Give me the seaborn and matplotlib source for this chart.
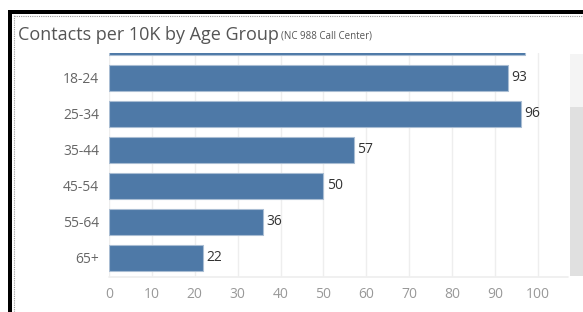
import matplotlib
matplotlib.use("Agg")
import matplotlib.pyplot as plt
import seaborn as sns
import pandas as pd
from matplotlib.lines import Line2D
from matplotlib.patches import Rectangle

# age groups (first one is scrolled out of view in the dashboard)
age_groups = ["<18", "18-24", "25-34", "35-44", "45-54", "55-64", "65+"]
contacts_per_10k = [97, 93, 96, 57, 50, 36, 22]
x_ticks = [0, 10, 20, 30, 40, 50, 60, 70, 80, 90, 100]

W, H = 583, 312
df = pd.DataFrame({"age": age_groups, "contacts": contacts_per_10k})

sns.set_theme(style="white")
plt.rcParams['font.family'] = ['Open Sans', 'DejaVu Sans']

fig = plt.figure(figsize=(W / 100, H / 100), dpi=100)
fig.patch.set_facecolor("white")

def px(x0, y0, x1, y1):
    return [x0 / W, 1 - y1 / H, (x1 - x0) / W, (y1 - y0) / H]

ax = fig.add_axes(px(109, 53, 568, 277))
sns.barplot(data=df, y="age", x="contacts", orient="h", color="#4e79a7",
            saturation=1, width=0.74, edgecolor="#a9bdd3", linewidth=0.8, ax=ax)

ax.set_xlim(0, 107)
ax.set_ylim(6.53, 0.31)
ax.set_xticks(x_ticks)
ax.set_xlabel("")
ax.set_ylabel("")
ax.grid(axis="x", color="#eeeeee", linewidth=1)
ax.set_axisbelow(True)
for s in ax.spines.values():
    s.set_visible(False)
ax.axhline(6.53, color="#eeeeee", linewidth=1.2, clip_on=False)
ax.tick_params(axis="x", colors="#999999", labelsize=10, length=0, pad=7)
ax.tick_params(axis="y", colors="#666666", labelsize=10, length=0, pad=7)
for lab in ax.get_xticklabels():
    lab.set_color("#999999")
for lab in ax.get_yticklabels():
    lab.set_color("#666666")

for i, v in enumerate(contacts_per_10k):
    ax.text(v + 0.8, i, str(v), va="center", ha="left", fontsize=10,
            color="#333333", clip_on=True)

# scrollbar on the right
fig.add_artist(Rectangle((570 / W, 1 - 276 / H), 13 / W, (276 - 107) / H,
                         transform=fig.transFigure, color="#e0e0e0", lw=0))
fig.add_artist(Rectangle((570 / W, 1 - 107 / H), 13 / W, (107 - 54) / H,
                         transform=fig.transFigure, color="#f4f4f4", lw=0))

# dashboard frame
fig.add_artist(Rectangle((8 / W, 0), 4 / W, 1 - 10 / H,
                         transform=fig.transFigure, color="black", lw=0))
fig.add_artist(Rectangle((8 / W, 1 - 14 / H), 1 - 8 / W, 4 / H,
                         transform=fig.transFigure, color="black", lw=0))
fig.add_artist(Line2D([13.5 / W, 13.5 / W], [0, 1 - 15 / H], transform=fig.transFigure,
                      color="#999999", lw=0.8, ls=(0, (1, 1))))
fig.add_artist(Line2D([13.5 / W, 1], [1 - 15.5 / H, 1 - 15.5 / H], transform=fig.transFigure,
                      color="#999999", lw=0.8, ls=(0, (1, 1))))

# title
t = fig.text(18 / W, 1 - 35 / H, "Contacts per 10K by Age Group", fontsize=13,
             color="#555555", va="center", ha="left")
fig.canvas.draw()
bb = t.get_window_extent()
fig.text((bb.x1 + 2) / W, 1 - 36 / H, "(NC 988 Call Center)", fontsize=7,
         color="#555555", va="center", ha="left")

fig.savefig("out.png", dpi=100)
